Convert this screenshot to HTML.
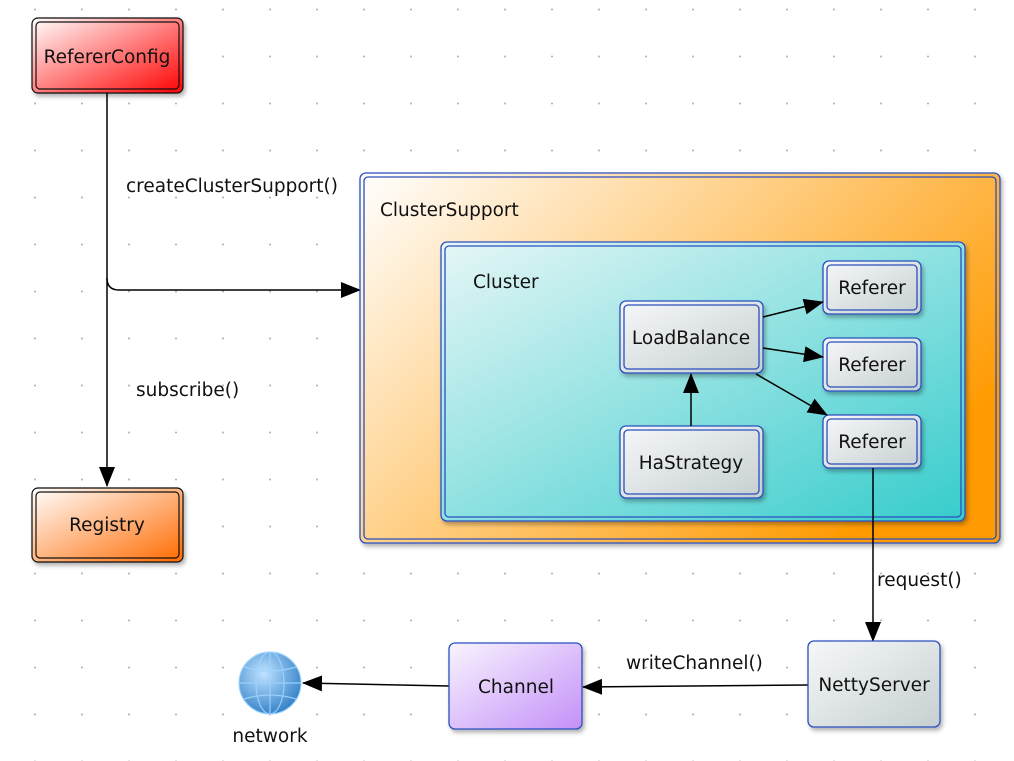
<!DOCTYPE html>
<html><head><style>html,body{margin:0;padding:0;background:#fff}svg{display:block}text{font-family:"DejaVu Sans",sans-serif;font-size:18.5px;fill:#111}</style></head><body>
<svg width="1014" height="761" xmlns="http://www.w3.org/2000/svg">
<defs>
<pattern id="g" x="33" y="7" width="47" height="47" patternUnits="userSpaceOnUse"><rect x="1.5" y="2" width="1" height="1" fill="#888"/><rect x="1" y="1.5" width="2" height="2" fill="#aaa" opacity="0.6"/></pattern>
<linearGradient id="red" x1="0" y1="0" x2="1" y2="1"><stop offset="0" stop-color="#fff"/><stop offset="1" stop-color="#f00"/></linearGradient>
<linearGradient id="org" x1="0" y1="0" x2="1" y2="1"><stop offset="0" stop-color="#fff"/><stop offset="1" stop-color="#ff6a00"/></linearGradient>
<linearGradient id="cs" x1="0" y1="0" x2="1" y2="0.6"><stop offset="0" stop-color="#fff"/><stop offset="1" stop-color="#ff9a00"/></linearGradient>
<linearGradient id="cl" x1="0" y1="0" x2="1" y2="1"><stop offset="0" stop-color="#e6f6f6"/><stop offset="1" stop-color="#36cccc"/></linearGradient>
<linearGradient id="gr" x1="0" y1="0" x2="1" y2="1"><stop offset="0" stop-color="#f6f8f8"/><stop offset="1" stop-color="#c6cfd0"/></linearGradient>
<linearGradient id="pu" x1="0" y1="0" x2="1" y2="1"><stop offset="0" stop-color="#f8f4fe"/><stop offset="1" stop-color="#c490f8"/></linearGradient>
<radialGradient id="globe" cx="0.4" cy="0.35" r="0.7"><stop offset="0" stop-color="#bfe3ff"/><stop offset="1" stop-color="#2f7ec6"/></radialGradient>
<filter id="sh" x="-10%" y="-10%" width="130%" height="130%"><feDropShadow dx="2" dy="3" stdDeviation="2" flood-opacity="0.3"/></filter>
<marker id="ar" markerWidth="20" markerHeight="16" refX="19" refY="8" orient="auto" markerUnits="userSpaceOnUse"><path d="M0,0 L20,8 L0,16 z" fill="#000"/></marker>
</defs>
<rect width="1014" height="761" fill="url(#g)"/>

<rect x="32" y="18" width="151" height="75" rx="6" fill="url(#red)" stroke="#111" stroke-width="1.2" filter="url(#sh)"/>
<rect x="36" y="22" width="143" height="67" rx="4" fill="none" stroke="#111" stroke-width="1.2"/>
<text x="107" y="63" text-anchor="middle">RefererConfig</text>

<rect x="32" y="488" width="151" height="74" rx="6" fill="url(#org)" stroke="#111" stroke-width="1.2" filter="url(#sh)"/>
<rect x="36" y="492" width="143" height="66" rx="4" fill="none" stroke="#111" stroke-width="1.2"/>
<text x="107" y="531" text-anchor="middle">Registry</text>

<path d="M107,93 V278 Q107,290 119,290 H360" fill="none" stroke="#000" stroke-width="1.5" marker-end="url(#ar)"/>
<path d="M107,278 V486" fill="none" stroke="#000" stroke-width="1.5" marker-end="url(#ar)"/>
<text x="126" y="192">createClusterSupport()</text>
<text x="136" y="396">subscribe()</text>

<rect x="360" y="173" width="640" height="370" rx="6" fill="url(#cs)" stroke="#2a4fbf" stroke-width="1.3" filter="url(#sh)"/>
<rect x="364" y="177" width="632" height="362" rx="4" fill="none" stroke="#2a4fbf" stroke-width="1.3"/>
<text x="380" y="216">ClusterSupport</text>

<rect x="441" y="242" width="524" height="279" rx="6" fill="url(#cl)" stroke="#2a4fbf" stroke-width="1.3" filter="url(#sh)"/>
<rect x="445" y="246" width="516" height="271" rx="4" fill="none" stroke="#2a4fbf" stroke-width="1.3"/>
<text x="473" y="288">Cluster</text>

<g stroke="#2a4fbf" stroke-width="1.3">
<rect x="620" y="301" width="143" height="72" rx="6" fill="url(#gr)" filter="url(#sh)"/>
<rect x="624" y="305" width="135" height="64" rx="4" fill="none"/>
<rect x="620" y="426" width="143" height="72" rx="6" fill="url(#gr)" filter="url(#sh)"/>
<rect x="624" y="430" width="135" height="64" rx="4" fill="none"/>
<rect x="823" y="261" width="98" height="53" rx="6" fill="url(#gr)" filter="url(#sh)"/>
<rect x="827" y="265" width="90" height="45" rx="4" fill="none"/>
<rect x="823" y="338" width="98" height="53" rx="6" fill="url(#gr)" filter="url(#sh)"/>
<rect x="827" y="342" width="90" height="45" rx="4" fill="none"/>
<rect x="823" y="415" width="98" height="53" rx="6" fill="url(#gr)" filter="url(#sh)"/>
<rect x="827" y="419" width="90" height="45" rx="4" fill="none"/>
</g>
<text x="691" y="344" text-anchor="middle">LoadBalance</text>
<text x="691" y="469" text-anchor="middle">HaStrategy</text>
<text x="872" y="294" text-anchor="middle">Referer</text>
<text x="872" y="371" text-anchor="middle">Referer</text>
<text x="872" y="448" text-anchor="middle">Referer</text>

<g stroke="#000" stroke-width="1.5" fill="none">
<path d="M691,426 V374" marker-end="url(#ar)"/>
<path d="M763,317 L823,302" marker-end="url(#ar)"/>
<path d="M763,348 L823,357" marker-end="url(#ar)"/>
<path d="M756,374 L827,415" marker-end="url(#ar)"/>
<path d="M873,468 V641" marker-end="url(#ar)"/>
<path d="M808,685 L583,687" marker-end="url(#ar)"/>
<path d="M449,686 L303,683" marker-end="url(#ar)"/>
</g>
<text x="877" y="586">request()</text>
<text x="626" y="669">writeChannel()</text>

<rect x="808" y="641" width="132" height="86" rx="6" fill="url(#gr)" stroke="#2a4fbf" stroke-width="1.3" filter="url(#sh)"/>
<text x="874" y="691" text-anchor="middle">NettyServer</text>

<rect x="449" y="643" width="133" height="86" rx="6" fill="url(#pu)" stroke="#2a4fbf" stroke-width="1.3" filter="url(#sh)"/>
<text x="516" y="693" text-anchor="middle">Channel</text>

<circle cx="270" cy="683" r="31" fill="url(#globe)"/>
<g stroke="#9fd4ff" stroke-width="1.2" fill="none" opacity="0.9">
<ellipse cx="270" cy="683" rx="31" ry="31"/>
<ellipse cx="270" cy="683" rx="14" ry="31"/>
<line x1="270" y1="652" x2="270" y2="714"/>
<line x1="239" y1="683" x2="301" y2="683"/>
<path d="M244,667 Q270,675 296,667"/><path d="M244,699 Q270,691 296,699"/>
</g>
<text x="270" y="742" text-anchor="middle">network</text>
</svg>
</body></html>
